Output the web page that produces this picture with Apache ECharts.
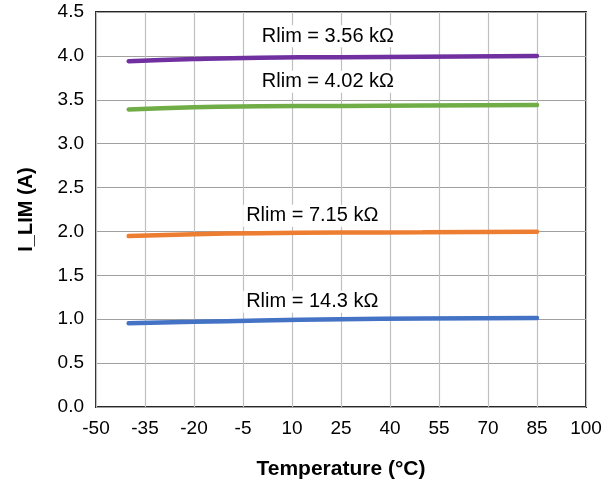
<!DOCTYPE html>
<html><head><meta charset="utf-8">
<script src="https://cdn.jsdelivr.net/npm/echarts@6/dist/echarts.min.js"></script>
<style>html,body{margin:0;padding:0;background:#fff}#c{width:614px;height:483px}</style>
</head><body><div id="c"></div>
<script>
const temps = [-40, -20, 0, 25, 50, 85];
const seriesNames = ['Rlim = 3.56 kΩ', 'Rlim = 4.02 kΩ', 'Rlim = 7.15 kΩ', 'Rlim = 14.3 kΩ'];
const rlim356 = [3.94, 3.965, 3.98, 3.985, 3.99, 4.0];
const rlim402 = [3.39, 3.415, 3.425, 3.43, 3.435, 3.44];
const rlim715 = [1.947, 1.968, 1.98, 1.987, 1.99, 1.997];
const rlim143 = [0.955, 0.97, 0.985, 1.0, 1.008, 1.015];
const xTicks = [-50, -35, -20, -5, 10, 25, 40, 55, 70, 85, 100];
const yTicks = [0, 0.5, 1, 1.5, 2, 2.5, 3, 3.5, 4, 4.5];

const colors = ['#7030a0', '#70ad47', '#ed7d31', '#4472c4'];
const values = [rlim356, rlim402, rlim715, rlim143];
const labelCoords = [[21, 4.225], [21, 3.705], [16.2, 2.18], [16.2, 1.2]];
const font = 'Arial, "Liberation Sans", Helvetica, sans-serif';

const chart = echarts.init(document.getElementById('c'), null, {renderer: 'canvas'});
chart.setOption({
  animation: false,
  backgroundColor: '#fff',
  grid: {left: 96, right: 28, top: 12, bottom: 76, outerBoundsMode: 'none', containLabel: false, show: true, borderColor: '#262626', borderWidth: 2, backgroundColor: 'transparent'},
  xAxis: {
    type: 'value', min: xTicks[0], max: xTicks[xTicks.length - 1], interval: 15,
    name: 'Temperature (°C)', nameLocation: 'middle', nameGap: 52,
    nameTextStyle: {fontFamily: font, fontWeight: 'bold', fontSize: 21, color: '#000'},
    axisLine: {show: false}, axisTick: {show: false},
    axisLabel: {fontFamily: font, fontSize: 19, color: '#000', margin: 12},
    splitLine: {show: true, lineStyle: {color: '#c0c0c0', width: 1.2}}
  },
  yAxis: {
    type: 'value', min: yTicks[0], max: yTicks[yTicks.length - 1], interval: 0.5,
    name: 'I_LIM (A)', nameLocation: 'middle', nameGap: 60, nameRotate: 90,
    nameTextStyle: {fontFamily: font, fontWeight: 'bold', fontSize: 20, color: '#000'},
    axisLine: {show: false}, axisTick: {show: false},
    axisLabel: {fontFamily: font, fontSize: 19, color: '#000', margin: 12, formatter: v => v.toFixed(1)},
    splitLine: {show: true, lineStyle: {color: '#a0a0a0', width: 1.2}}
  },
  series: values.map((vals, i) => ({
    type: 'line', name: seriesNames[i], smooth: true, symbol: 'none',
    data: temps.map((t, j) => [t, vals[j]]),
    lineStyle: {color: colors[i], width: 4.5, cap: 'round'},
    z: 3,
    markPoint: {
      symbol: 'circle', symbolSize: 0, silent: true,
      data: [{coord: labelCoords[i], value: seriesNames[i]}],
      label: {show: true, position: 'inside', formatter: seriesNames[i], fontFamily: font, fontSize: 20, color: '#000', backgroundColor: '#fff', padding: [1, 3]}
    }
  }))
});
</script></body></html>
